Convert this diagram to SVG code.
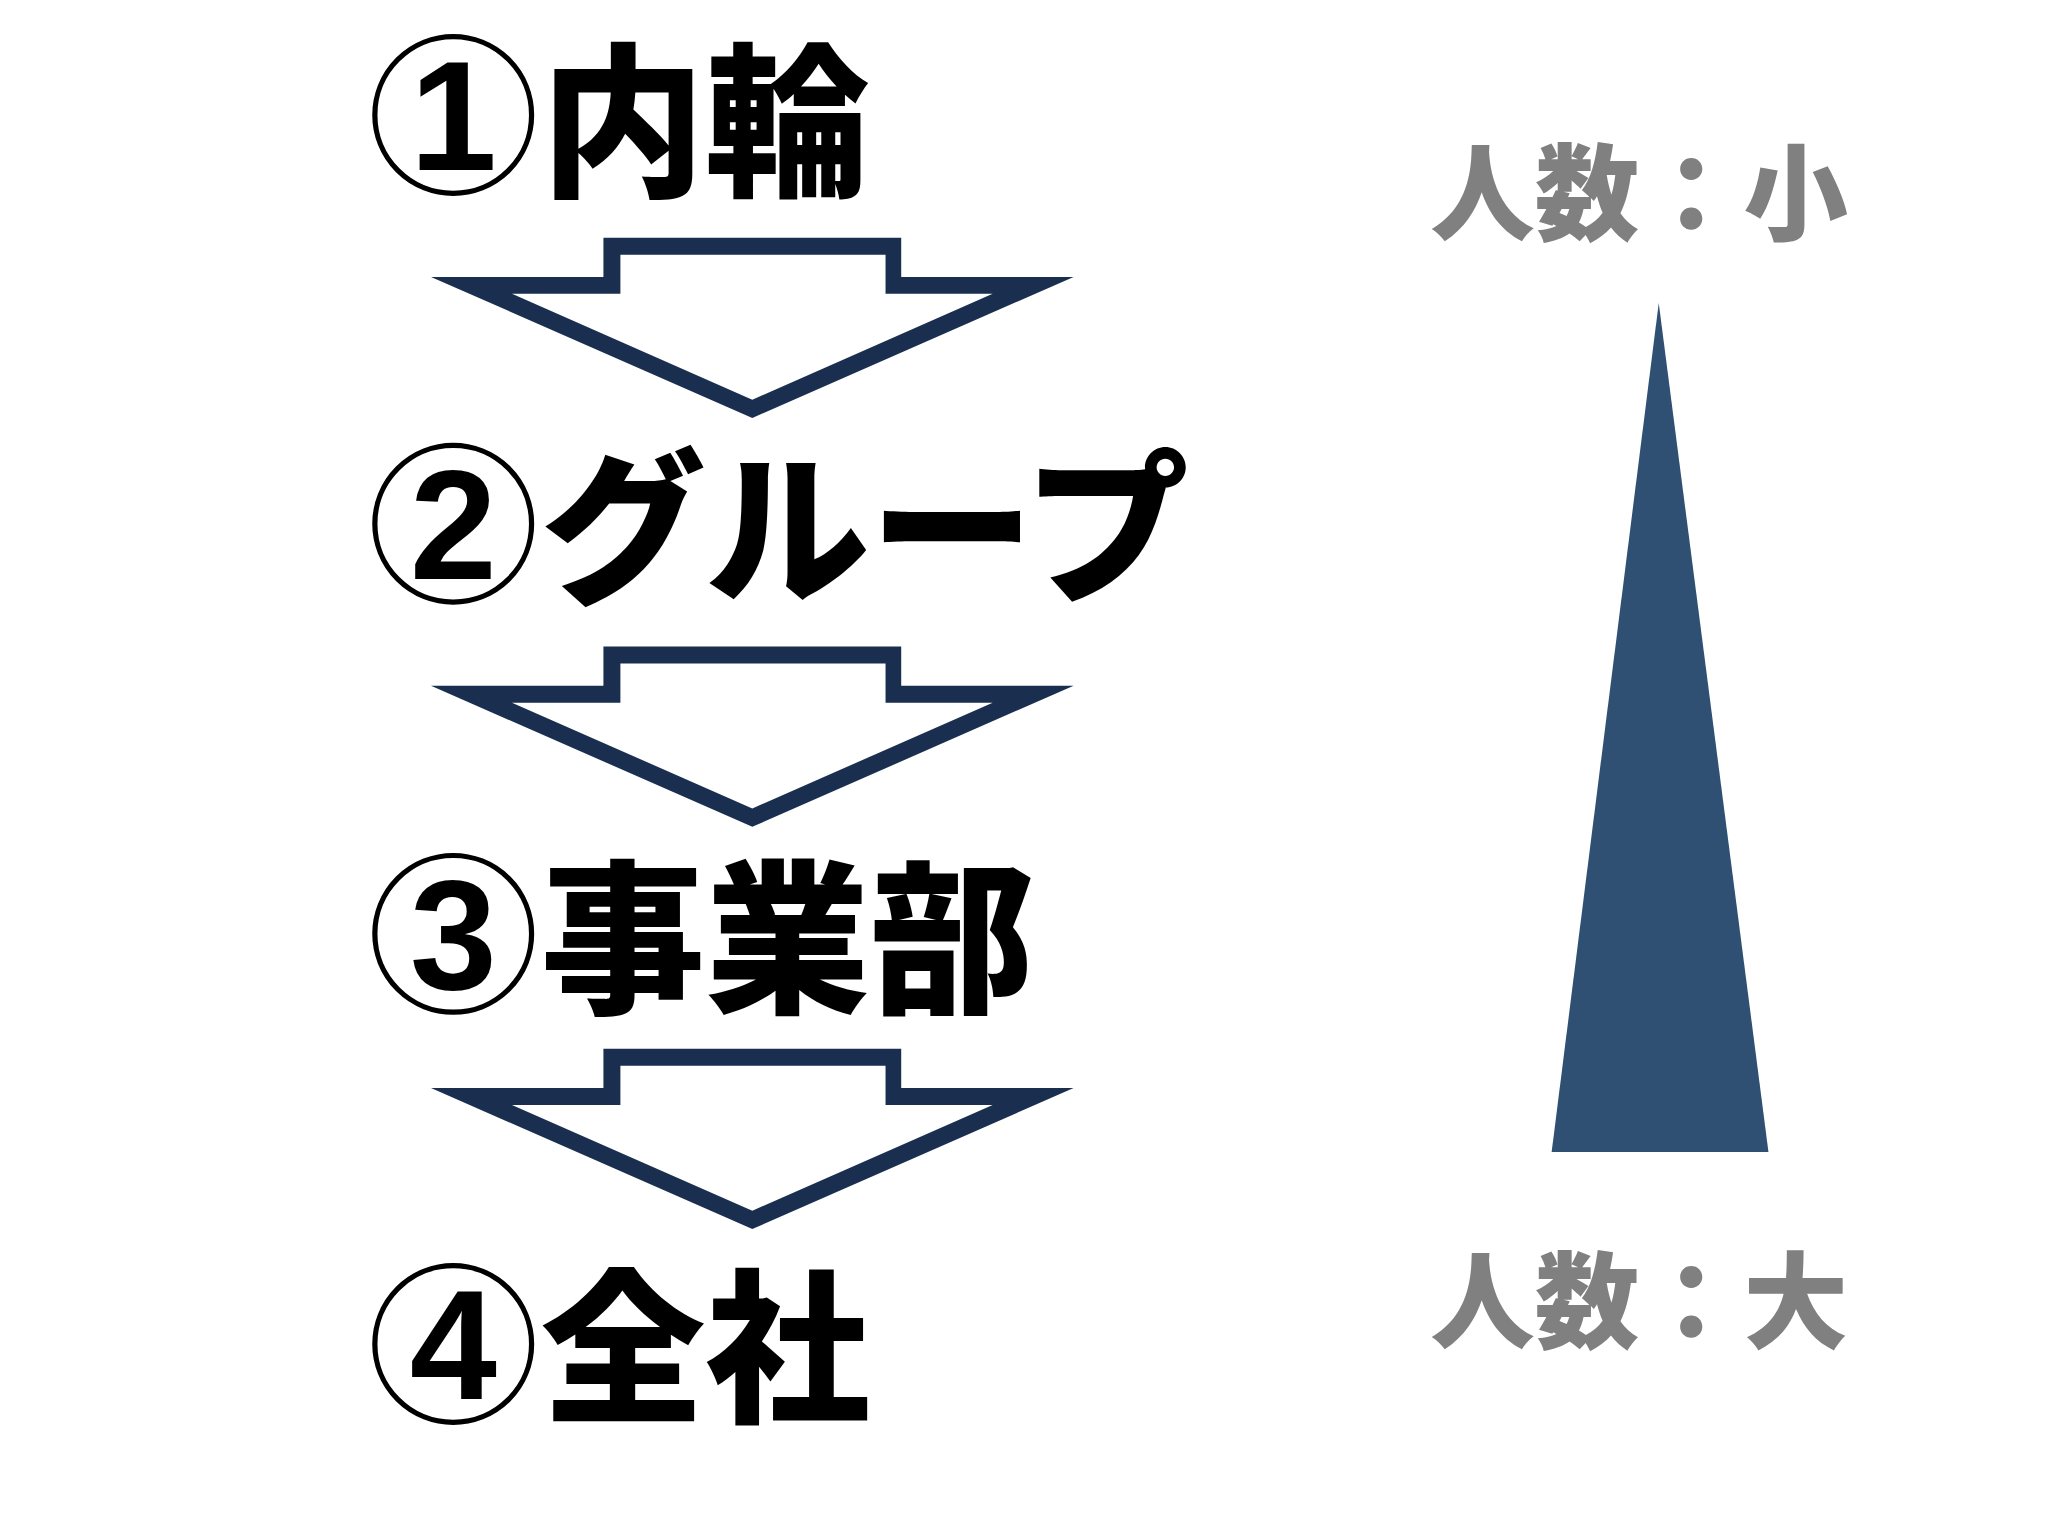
<svg xmlns="http://www.w3.org/2000/svg" width="2048" height="1536" viewBox="0 0 2048 1536">
<defs>
<style>
.t{font-family:"Noto Sans CJK JP","Noto Sans CJK SC",sans-serif;font-weight:900;fill:#000}
.d{font-family:"Liberation Sans",sans-serif;font-weight:bold;fill:#000;text-anchor:middle}
.c{fill:#fff;stroke:#000;stroke-width:4}
.g{font-family:"Noto Sans CJK JP",sans-serif;font-weight:900;fill:#808080;font-size:80px}
.a{fill:#1a2f50;fill-rule:evenodd}
</style>
<path id="arr" class="a" d="M462,182 H690 V212 H822 L576,320 L330,212 H462 Z M475,195 V225 H392 L576,306 L760,225 H678 V195 Z"/>
</defs>
<rect width="2048" height="1536" fill="#fff"/>
<g transform="scale(1.3061)">
<g id="n1"><circle class="c" cx="347" cy="88" r="60"/><text class="d" x="347" y="130" font-size="120">1</text><text class="t" x="414" y="140" font-size="126">内輪</text></g>
<g id="n2"><circle class="c" cx="347" cy="401" r="60"/><text class="d" x="347" y="443" font-size="120">2</text><text class="t" x="414" y="452" font-size="126">グループ</text></g>
<g id="n3"><circle class="c" cx="347" cy="715" r="60"/><text class="d" x="347" y="757" font-size="120">3</text><text class="t" x="414" y="766" font-size="126">事業部</text></g>
<g id="n4"><circle class="c" cx="347" cy="1029" r="60"/><text class="d" x="347" y="1071" font-size="120">4</text><text class="t" x="414" y="1079" font-size="126">全社</text></g>
<g id="connectors">
<use href="#arr"/>
<use href="#arr" y="313"/>
<use href="#arr" y="621"/>
</g>
<g id="scale">
<text class="g" x="1095" y="178">人数：小</text>
<polygon points="1270,232 1354,882 1188,882" fill="#2f5072"/>
<text class="g" x="1095" y="1026">人数：大</text>
</g>
</g>
</svg>
